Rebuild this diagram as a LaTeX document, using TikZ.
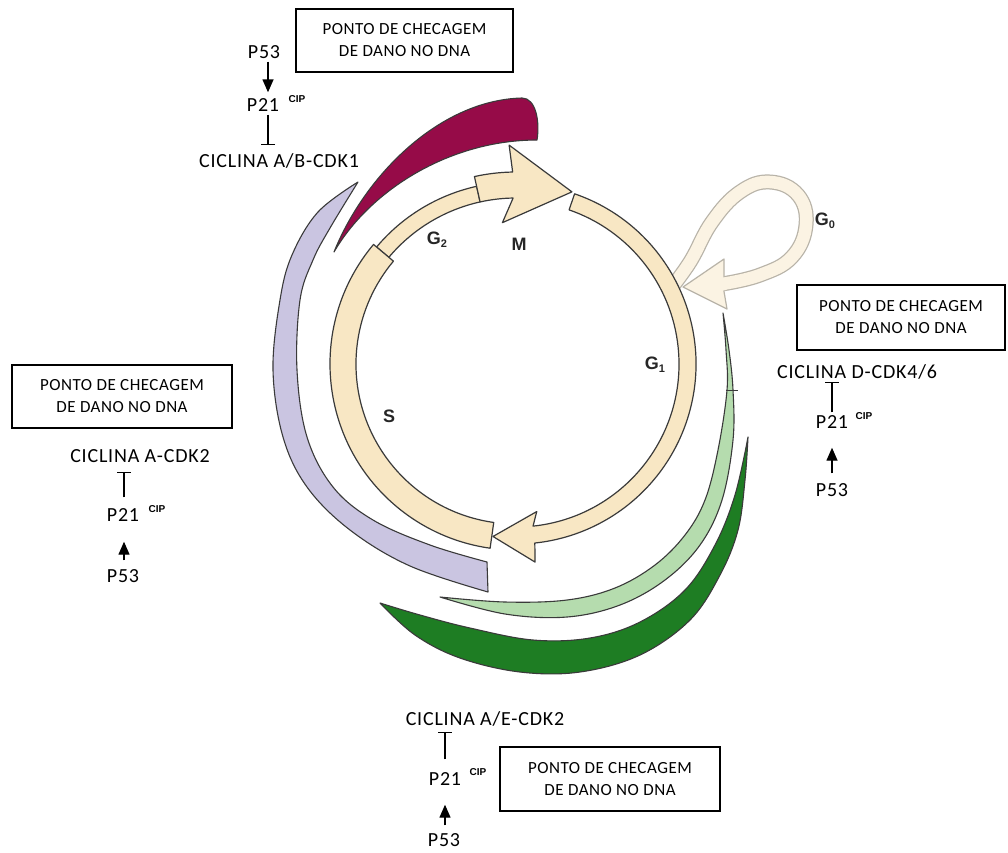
\documentclass[tikz,border=0pt]{standalone}
\usepackage{fontspec}
\setmainfont{Carlito}
\newfontfamily\labfont[LetterSpace=4]{Carlito}
\newfontfamily\boxfont[LetterSpace=3]{Carlito}
\newfontfamily\phasefont{Liberation Sans}
\usetikzlibrary{arrows.meta,calc}

\definecolor{ringfill}{HTML}{F8E7C4}
\definecolor{ringline}{HTML}{3A3A3A}
\definecolor{gzerofill}{HTML}{FBF3E3}
\definecolor{gzeroline}{HTML}{B8B3A8}
\definecolor{maroon}{HTML}{960B48}
\definecolor{lavender}{HTML}{CAC5E1}
\definecolor{lightgreen}{HTML}{B5DCAE}
\definecolor{darkgreen}{HTML}{1E7D23}

\tikzset{
  lab/.style={font=\labfont\fontsize{20}{24}\selectfont, inner sep=3pt,
              text height=13pt, text depth=0pt},
  cip/.style={font=\phasefont\bfseries\fontsize{10}{10}\selectfont, inner sep=0pt},
  chk/.style={draw, line width=1.1pt, align=center, inner sep=0pt,
              font=\boxfont\fontsize{17}{22}\selectfont},
  act/.style={line width=1.4pt, -{Triangle[width=11pt,length=13pt]}},
  inh/.style={line width=1.2pt, -{Bar[width=14pt,line width=1.2pt]}},
  phase/.style={font=\phasefont\bfseries\fontsize{18}{18}\selectfont, text=black!85},
  ringpart/.style={fill=ringfill, draw=ringline, line width=1.2pt, line join=round},
  band/.style={draw=ringline, line width=1.1pt, line join=round},
}

\begin{document}
\begin{tikzpicture}[x=1pt,y=-1pt]
\useasboundingbox[fill=white] (0,0) rectangle (1008,852);

% ---- cyclin bands around the cycle ----
\path[band, fill=lavender]
  plot[smooth, tension=0.6] coordinates {(358,182) (318,212) (292,255) (280,300) (273,370) (283,437) (307,487) (350,530) (410,566) (488,592)}
  -- (487,562)
  -- plot[smooth, tension=0.6] coordinates {(487,562) (430,545) (373,520) (333,487) (307,437) (297,370) (300,300) (313,260) (330,228) (358,182)}
  -- cycle;

\path[band, fill=maroon]
  (334,252) .. controls (365,175) and (440,100) .. (522,98)
  .. controls (536,98) and (540,122) .. (537,140)
  .. controls (450,140) and (370,190) .. (334,252) -- cycle;

\path[band, fill=darkgreen]
  plot[smooth, tension=0.6] coordinates {(748,437) (745,480) (738,530) (720,575) (690,620) (640,655) (580,672) (520,672) (460,658) (415,635) (380,603)}
  -- plot[smooth, tension=0.6] coordinates {(380,603) (420,615) (470,628) (533,640) (590,638) (640,622) (685,590) (715,545) (735,495) (748,437)}
  -- cycle;

\path[band, fill=lightgreen]
  plot[smooth, tension=0.6] coordinates {(723,313) (729,350) (733,390) (733,440) (722,500) (700,545) (665,580) (620,605) (567,617) (505,614) (440,597)}
  -- plot[smooth, tension=0.6] coordinates {(440,597) (505,602) (567,600) (615,588) (655,565) (685,535) (705,500) (718,450) (727,390) (726,350) (723,313)}
  -- cycle;
\draw[line width=0.8pt, ringline] (726,390) -- (738,390);

% ---- G0 loop ----
\draw[gzeroline, line width=15pt]
  plot[smooth, tension=0.7] coordinates {(668,292) (690,262) (712,222) (740,192) (770,182) (798,195) (806,225) (792,257) (760,275) (722,284)};
\path[fill=gzerofill, draw=gzeroline, line width=1.2pt, line join=round]
  (724,259) -- (683,287) -- (727,309) -- (724,291.5) -- (724,276.5) -- cycle;
\draw[gzerofill, line width=12.5pt]
  plot[smooth, tension=0.7] coordinates {(668,292) (690,262) (712,222) (740,192) (770,182) (798,195) (806,225) (792,257) (760,275) (722,284)};
\draw[gzerofill, line width=12.5pt] (726,283.8) -- (714,285);

% ---- the cycle ring ----
\begin{scope}[shift={(516,364)}, yscale=-1]
  % G2
  \path[ringpart] (140:182) arc[start angle=140, end angle=102.5, radius=182]
    -- (102.5:166) arc[start angle=102.5, end angle=140, radius=166] -- cycle;
  % S
  \path[ringpart] (140:186) arc[start angle=140, end angle=262, radius=186]
    -- (262:160) arc[start angle=262, end angle=140, radius=160] -- cycle;
  % G1 with its arrowhead
  \path[ringpart] (71:180) arc[start angle=71, end angle=-84, radius=180]
    -- (-84.5:199) -- (-97.6:174) -- (-82:149) -- (-84:163)
    arc[start angle=-84, end angle=71, radius=163] -- cycle;
  % M arrow
  \path[ringpart] (102.5:192) arc[start angle=102.5, end angle=91, radius=192]
    -- (91.8:219) -- (72:181) -- (95.5:142) -- (91:166)
    arc[start angle=91, end angle=102.5, radius=166] -- cycle;
\end{scope}

% ---- phase labels ----
\node[phase] (lg2) at (437,240) {G\raisebox{-0.35ex}{\fontsize{11}{11}\selectfont 2}};
\node[phase] (lm)  at (519,244) {M};
\node[phase] (ls)  at (389,416) {S};
\node[phase] (lg1) at (655,365) {G\raisebox{-0.35ex}{\fontsize{11}{11}\selectfont 1}};
\node[phase] (lg0) at (825,221) {G\raisebox{-0.35ex}{\fontsize{11}{11}\selectfont 0}};

% ---- checkpoint boxes ----
\node[chk, minimum width=217pt, minimum height=63pt] (boxa) at (404.5,40.5) {PONTO DE CHECAGEM\\DE DANO NO DNA};
\node[chk, minimum width=208pt, minimum height=65pt] (boxb) at (901,317.5) {PONTO DE CHECAGEM\\DE DANO NO DNA};
\node[chk, minimum width=220pt, minimum height=63pt] (boxc) at (122,396.5) {PONTO DE CHECAGEM\\DE DANO NO DNA};
\node[chk, minimum width=220pt, minimum height=64pt] (boxd) at (610,779) {PONTO DE CHECAGEM\\DE DANO NO DNA};

% ---- G2/M checkpoint (top left) ----
\node[lab] (p53a) at (264,52) {P53};
\node[lab] (p21a) at (263,105) {P21};
\node[cip] (cipa) at (297,99) {CIP};
\node[lab] (cyca) at (279,161) {CICLINA A/B-CDK1};
\draw[act, shorten >=3pt] ([xshift=4pt]p53a.south) -- ([xshift=4pt]p53a.south |- p21a.north);
\draw[inh, shorten >=6pt] ([xshift=5pt]p21a.south) -- ([xshift=5pt]p21a.south |- cyca.north);

% ---- G1 checkpoint (right) ----
\node[lab] (cycb) at (857,372) {CICLINA D-CDK4/6};
\node[lab] (p21b) at (832,422) {P21};
\node[cip] (cipb) at (864,416) {CIP};
\node[lab] (p53b) at (832,490) {P53};
\draw[inh] (p21b.north) -- (p21b.north |- cycb.south);
\draw[act, shorten <=7pt, shorten >=16pt] (p53b.north) -- (p21b.south);

% ---- S checkpoint (left) ----
\node[lab] (cycc) at (140,456) {CICLINA A-CDK2};
\node[lab] (p21c) at (123,515) {P21};
\node[cip] (cipc) at (157,509) {CIP};
\node[lab] (p53c) at (123,576) {P53};
\draw[inh, shorten <=8pt, shorten >=6pt] ([xshift=1pt]p21c.north) -- ([xshift=1pt]p21c.north |- cycc.south);
\draw[act, shorten <=6pt, shorten >=17pt] ([xshift=1pt]p53c.north) -- ([xshift=1pt]p21c.south);

% ---- G1/S checkpoint (bottom) ----
\node[lab] (cycd) at (485,719) {CICLINA A/E-CDK2};
\node[lab] (p21d) at (445,779) {P21};
\node[cip] (cipd) at (478,772) {CIP};
\node[lab] (p53d) at (444,840) {P53};
\draw[inh, shorten <=10pt, shorten >=3pt] (p21d.north) -- (p21d.north |- cycd.south);
\draw[act, shorten <=5pt, shorten >=16pt] ([xshift=1pt]p53d.north) -- ([xshift=1pt]p53d.north |- p21d.south);
\end{tikzpicture}
\end{document}
